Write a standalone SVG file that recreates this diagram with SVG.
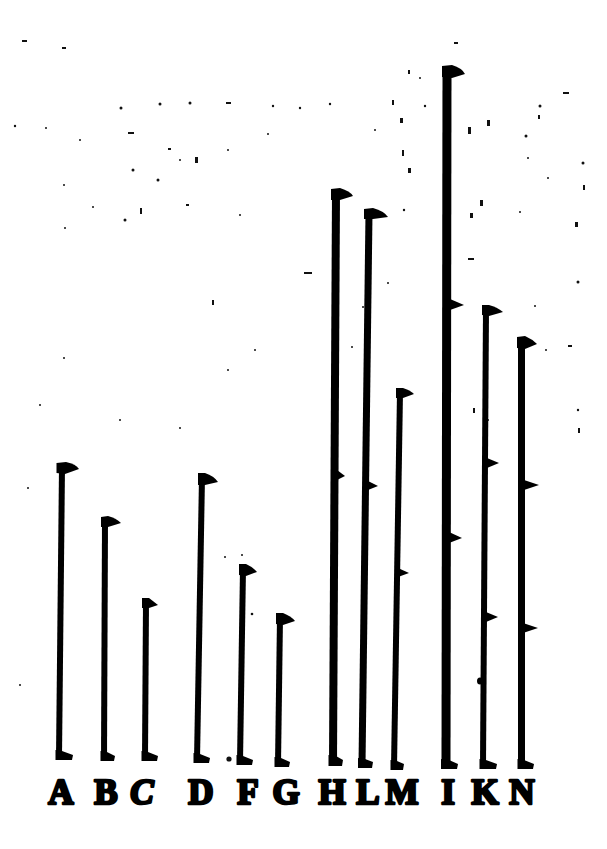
<svg xmlns="http://www.w3.org/2000/svg" width="607" height="849" viewBox="0 0 607 849">
<style>
.ink{fill:#000}
.sp{fill:#111}
.lbl{font-family:"Liberation Serif","DejaVu Serif",serif;font-weight:bold;font-size:35px;fill:#000;stroke:#000;stroke-width:2.6;stroke-linejoin:round;text-anchor:middle}
</style>
<rect width="607" height="849" fill="#ffffff"/>
<g id="specks" class="sp">
<rect x="22" y="40" width="5" height="2"/><rect x="62" y="47" width="4" height="2"/>
<circle cx="121" cy="108" r="1.5"/><circle cx="160" cy="104" r="1.5"/><circle cx="190" cy="103" r="1.5"/>
<rect x="226" y="102" width="5" height="2"/><circle cx="273" cy="106" r="1.2"/><circle cx="300" cy="108" r="1.2"/>
<circle cx="330" cy="104" r="1.2"/><rect x="392" y="100" width="2" height="5"/><circle cx="425" cy="106" r="1.2"/>
<rect x="454" y="42" width="4" height="2"/><rect x="563" y="92" width="6" height="2"/><circle cx="540" cy="106" r="1.5"/>
<rect x="538" y="115" width="2" height="4"/><rect x="487" y="120" width="3" height="6"/><rect x="408" y="70" width="2" height="4"/>
<circle cx="420" cy="78" r="1"/><rect x="400" y="118" width="3" height="5"/><rect x="402" y="150" width="2" height="6"/>
<rect x="408" y="168" width="3" height="5"/><circle cx="375" cy="130" r="1"/><circle cx="268" cy="134" r="1"/>
<circle cx="228" cy="150" r="1"/><rect x="195" y="157" width="3" height="6"/><rect x="168" y="148" width="3" height="2"/>
<circle cx="133" cy="170" r="1.5"/><circle cx="158" cy="180" r="1.5"/><rect x="128" y="132" width="6" height="2"/>
<circle cx="180" cy="160" r="1"/><rect x="140" y="208" width="2" height="6"/><circle cx="125" cy="220" r="1.5"/>
<rect x="186" y="204" width="3" height="2"/><circle cx="240" cy="215" r="1"/><rect x="304" y="272" width="8" height="2"/>
<circle cx="15" cy="126" r="1.2"/><circle cx="46" cy="128" r="1"/><circle cx="80" cy="140" r="1"/>
<circle cx="64" cy="185" r="1"/><circle cx="93" cy="207" r="1"/><circle cx="65" cy="228" r="1"/>
<rect x="468" y="127" width="3" height="7"/><rect x="480" y="200" width="3" height="6"/><rect x="470" y="213" width="3" height="5"/>
<rect x="468" y="258" width="6" height="2"/><circle cx="526" cy="136" r="1.5"/><circle cx="528" cy="158" r="1"/>
<circle cx="583" cy="163" r="1.5"/><rect x="583" y="185" width="2" height="5"/><circle cx="548" cy="178" r="1"/>
<rect x="575" y="222" width="3" height="5"/><circle cx="520" cy="212" r="1"/><circle cx="578" cy="282" r="1.5"/>
<rect x="568" y="345" width="4" height="2"/><circle cx="578" cy="410" r="1.2"/><rect x="578" y="428" width="2" height="5"/>
<circle cx="546" cy="350" r="1"/><circle cx="535" cy="306" r="1"/><circle cx="488" cy="420" r="1"/>
<rect x="473" y="408" width="2" height="5"/><circle cx="363" cy="307" r="1"/><circle cx="352" cy="347" r="1"/>
<circle cx="388" cy="283" r="1"/><rect x="212" y="300" width="2" height="5"/><circle cx="255" cy="350" r="1"/>
<circle cx="228" cy="370" r="1"/><circle cx="180" cy="428" r="1"/><circle cx="120" cy="420" r="1"/>
<circle cx="64" cy="358" r="1"/><circle cx="40" cy="405" r="1"/><circle cx="242" cy="555" r="1"/>
<circle cx="225" cy="557" r="1"/><circle cx="252" cy="614" r="1.3"/><circle cx="229" cy="759" r="2.6"/>
<circle cx="20" cy="685" r="1"/><circle cx="28" cy="488" r="1"/><circle cx="404" cy="210" r="1.2"/>
</g>
<g id="staffs" class="ink">
<g id="A"><polygon points="59,467 65,467 62,757 56,757"/><path d="M56.5,463 L66,462 Q76,464 79,469 L65,474 L56.5,473 Z"/><path d="M55.5,750 L62,751 L73,755 L72,760 L55.5,760 Z"/></g>
<g id="B"><polygon points="102,521 108,521 107,758 101,758"/><path d="M101,517 L108,516 Q116,518 121,523 L108,527 L101,527 Z"/><path d="M100.5,751 L107,752 L115,756 L114,761 L100.5,761 Z"/></g>
<g id="C"><polygon points="143,602 149,602 148,758 142,758"/><path d="M142,598 L149,598 L158,605 L149,608 L142,608 Z"/><path d="M141.5,751 L148,752 L158,756 L157,761 L141.5,761 Z"/></g>
<g id="D"><polygon points="199,477 205,477 200,760 194,760"/><path d="M198,473 L205,473 Q214,476 218,482 L205,485 L198,485 Z"/><path d="M193.5,753 L200,754 L210,758 L209,763 L193.5,763 Z"/></g>
<g id="F"><polygon points="240,568 246,568 243,762 237,762"/><path d="M239,564 L246,564 Q253,567 257,572 L246,576 L239,575 Z"/><path d="M236.5,755 L243,756 L253,760 L252,765 L236.5,765 Z"/></g>
<g id="G"><polygon points="277,617 283,617 281,764 275,764"/><path d="M276,613 L283,613 Q291,616 295,621 L283,625 L276,624 Z"/><path d="M274.5,757 L281,758 L290,762 L289,767 L274.5,767 Z"/></g>
<g id="H"><polygon points="332,193 340,193 337,763 329,763"/><path d="M331,189 L340,188 Q350,191 353,196 L340,200 L331,200 Z"/><path d="M337,470 L345,476 L337,480 Z"/><path d="M328.5,755 L336,756 L343,760 L342,766 L328.5,766 Z"/></g>
<g id="L"><polygon points="365.5,213 372.5,213 365.5,765 358.5,765"/><path d="M364,209 L373,208 Q384,211 388,217 L373,219 L364,219 Z"/><path d="M368,481 L378,486 L368,490 Z"/><path d="M358,758 L365,759 L373,762 L372,768 L358,768 Z"/></g>
<g id="M"><polygon points="397,392 403,392 397,767 391,767"/><path d="M396,388 L403,388 Q410,390 414,394 L403,398 L396,398 Z"/><path d="M398,568 L409,573 L398,577 Z"/><path d="M390.5,760 L397,761 L404,764 L403,770 L390.5,770 Z"/></g>
<g id="I"><polygon points="442.5,70 451.5,70 450.5,766 441.5,766"/><path d="M442,66 L452,65 Q462,68 465,74 L452,78 L442,77 Z"/><path d="M450,299 L464,305 L450,310 Z"/><path d="M449,532 L462,538 L449,543 Z"/><path d="M441,759 L449,760 L458,764 L457,769 L441,769 Z"/></g>
<g id="K"><polygon points="483,309 489,309 486,766 480,766"/><path d="M482,305 L489,305 Q497,307 503,312 L489,316 L482,315 Z"/><path d="M487,458 L499,463 L487,468 Z"/><path d="M486,612 L498,617 L486,622 Z"/><ellipse cx="480" cy="681" rx="3" ry="3.5"/><path d="M479.5,759 L486,760 L497,764 L496,769 L479.5,769 Z"/></g>
<g id="N"><polygon points="518,341 525,341 525,766 518,766"/><path d="M517,337 L525,336 Q532,339 537,344 L525,349 L517,348 Z"/><path d="M524,480 L539,485 L524,490 Z"/><path d="M523,623 L538,628 L523,633 Z"/><path d="M517.5,759 L524,760 L534,764 L533,769 L517.5,769 Z"/></g>
</g>
<g id="labels">
<text class="lbl" x="61" y="804">A</text>
<text class="lbl" x="106" y="804">B</text>
<text class="lbl" x="142" y="804" font-style="italic">C</text>
<text class="lbl" x="201" y="804">D</text>
<text class="lbl" x="248" y="804">F</text>
<text class="lbl" x="286" y="804">G</text>
<text class="lbl" x="332" y="804">H</text>
<text class="lbl" x="368" y="804">L</text>
<text class="lbl" x="402" y="804">M</text>
<text class="lbl" x="448" y="804">I</text>
<text class="lbl" x="485" y="804">K</text>
<text class="lbl" x="522" y="804">N</text>
</g>
</svg>
